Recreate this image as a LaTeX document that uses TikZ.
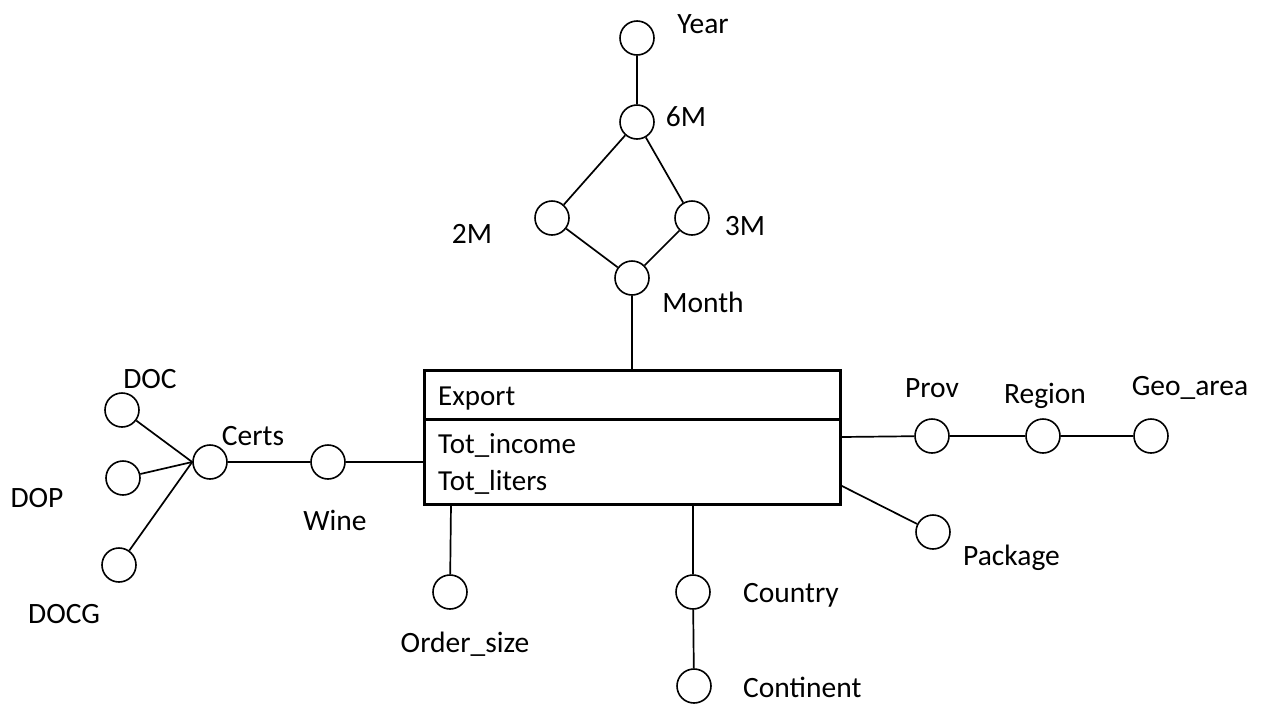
\documentclass[tikz,border=0pt]{standalone}
\usepackage{fontspec}
\setmainfont{Carlito}
\begin{document}
\begin{tikzpicture}[x=1pt,y=-1pt,
  attr/.style={circle,draw,line width=1.6pt,minimum size=34pt,inner sep=0pt},
  conn/.style={line width=1.7pt},
  lbl/.style={anchor=base,inner sep=0pt,font=\fontsize{29.5}{34}\selectfont},
  boxtxt/.style={anchor=base west,inner sep=0pt,font=\fontsize{29}{34}\selectfont}]
\useasboundingbox (0,0) rectangle (1262,705);
\fill[white] (0,0) rectangle (1262,705);

% attribute circles
\node[attr] (year) at (637,38) {};
\node[attr] (m6) at (637,122) {};
\node[attr] (m2) at (552,218) {};
\node[attr] (m3) at (692,218) {};
\node[attr] (month) at (632,278) {};
\node[attr] (prov) at (932,436) {};
\node[attr] (region) at (1043,436) {};
\node[attr] (geo) at (1151,436) {};
\node[attr] (package) at (933,532) {};
\node[attr] (country) at (693,592) {};
\node[attr] (continent) at (694,686) {};
\node[attr] (order) at (450,592) {};
\node[attr] (wine) at (328,462) {};
\node[attr] (certs) at (210,462) {};
\node[attr] (doc) at (122,410) {};
\node[attr] (dop) at (123,478) {};
\node[attr] (docg) at (119,565) {};

% fact box
\node[draw,line width=3pt,minimum width=416pt,minimum height=134pt,inner sep=0pt] (export) at (632,437) {};
\coordinate (divl) at (424,419);
\coordinate (divr) at (840,419);
\draw[line width=3pt] (divl) -- (divr);
\node[boxtxt] (tex) at (438,405) {Export};
\node[boxtxt] (tinc) at (438,453) {Tot\_income};
\node[boxtxt] (tlit) at (438,490) {Tot\_liters};

% attachment points on the box
\coordinate (pk) at (840,485);
\coordinate (co) at (693,504);
\coordinate (os) at (451,504);
\coordinate (wi) at (424,462);

% connectors
\draw[conn] (year) -- (m6);
\draw[conn] (m6) -- (m2);
\draw[conn] (m6) -- (m3);
\draw[conn] (m2) -- (month);
\draw[conn] (m3) -- (month);
\draw[conn] (month) -- (export.north);
\draw[conn] (export.east) -- (prov);
\draw[conn] (prov) -- (region);
\draw[conn] (region) -- (geo);
\draw[conn] (pk) -- (package);
\draw[conn] (co) -- (country);
\draw[conn] (country) -- (continent);
\draw[conn] (os) -- (order);
\draw[conn] (wi) -- (wine);
\draw[conn] (wine) -- (certs);
\draw[conn] (certs.west) -- (doc);
\draw[conn] (certs.west) -- (dop);
\draw[conn] (certs.west) -- (docg);

% labels
\node[lbl] (lyear) at (703,33) {Year};
\node[lbl] (l6m) at (686,126) {6M};
\node[lbl] (l2m) at (472,243) {2M};
\node[lbl] (l3m) at (745,235) {3M};
\node[lbl] (lmonth) at (703,312) {Month};
\node[lbl] (lprov) at (932,397) {Prov};
\node[lbl] (lregion) at (1045,403) {Region};
\node[lbl] (lgeo) at (1190,395) {Geo\_area};
\node[lbl,anchor=base west] (lpackage) at (963,565) {Package};
\node[lbl,anchor=base west] (lcountry) at (743,602) {Country};
\node[lbl,anchor=base west] (lcontinent) at (743,697) {Continent};
\node[lbl] (lorder) at (465,652) {Order\_size};
\node[lbl] (lwine) at (335,530) {Wine};
\node[lbl] (lcerts) at (253,445) {Certs};
\node[lbl] (ldoc) at (150,388) {DOC};
\node[lbl] (ldop) at (37,507) {DOP};
\node[lbl] (ldocg) at (64,623) {DOCG};
\end{tikzpicture}
\end{document}
